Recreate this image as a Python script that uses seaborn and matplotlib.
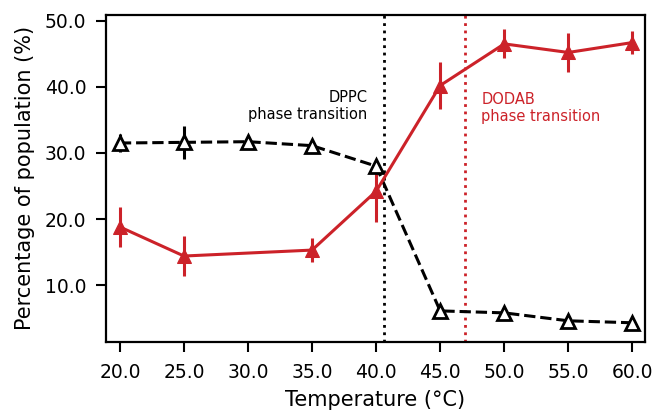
import numpy as np
import pandas as pd
import seaborn as sns
import matplotlib.pyplot as plt
from matplotlib.ticker import FormatStrFormatter

# data
temp_dppc = [20, 25, 30, 35, 40, 45, 50, 55, 60]
pop_dppc = [31.5, 31.6, 31.7, 31.1, 28.0, 6.1, 5.8, 4.6, 4.3]
err_dppc = [1.4, 2.5, 0.8, 0.6, 0.8, 0.5, 0.4, 0.5, 0.4]

temp_dodab = [20, 25, 35, 40, 45, 50, 55, 60]
pop_dodab = [18.8, 14.4, 15.3, 24.2, 40.2, 46.5, 45.2, 46.7]
err_dodab = [3.0, 3.0, 1.8, 4.6, 3.5, 2.2, 3.0, 1.8]

dppc_tm = 40.6
dodab_tm = 46.9

red = '#cc2229'

sns.set_style('ticks')
plt.rcParams['font.family'] = ['DejaVu Sans']

fig, ax = plt.subplots(figsize=(6.53, 4.11), dpi=100)

df_a = pd.DataFrame({'T': temp_dppc, 'P': pop_dppc})
df_b = pd.DataFrame({'T': temp_dodab, 'P': pop_dodab})

ax.errorbar(temp_dppc, pop_dppc, yerr=err_dppc, fmt='none', ecolor='black', elinewidth=2.2, zorder=2)
ax.errorbar(temp_dodab, pop_dodab, yerr=err_dodab, fmt='none', ecolor=red, elinewidth=2.2, zorder=2)

sns.lineplot(data=df_a, x='T', y='P', ax=ax, color='black', linestyle='--', linewidth=2.2,
             marker='^', markersize=10, markerfacecolor='white', markeredgecolor='black',
             markeredgewidth=2, zorder=3)
sns.lineplot(data=df_b, x='T', y='P', ax=ax, color=red, linewidth=2.2,
             marker='^', markersize=10, markerfacecolor=red, markeredgecolor=red, zorder=4)

ax.axvline(dppc_tm, color='black', linestyle=':', linewidth=2, zorder=1)
ax.axvline(dodab_tm, color=red, linestyle=':', linewidth=2, zorder=1)

ax.text(dppc_tm - 1.3, 37.1, 'DPPC\nphase transition', ha='right', va='center',
        fontsize=10.5, color='black', linespacing=1.2)
ax.text(dodab_tm + 1.3, 36.8, 'DODAB\nphase transition', ha='left', va='center',
        fontsize=10.5, color=red, linespacing=1.2)

ax.set_xlim(18.9, 61.0)
ax.set_ylim(1.4, 50.9)
ax.set_xticks(np.arange(20, 61, 5))
ax.set_yticks(np.arange(10, 51, 10))
ax.xaxis.set_major_formatter(FormatStrFormatter('%.1f'))
ax.yaxis.set_major_formatter(FormatStrFormatter('%.1f'))
ax.tick_params(labelsize=13.5, width=1.5, length=7, color='black', labelcolor='black')
ax.tick_params(axis='x', pad=8)
ax.tick_params(axis='y', pad=7)
for s in ax.spines.values():
    s.set_linewidth(1.6)
    s.set_color('black')

ax.set_xlabel('Temperature (°C)', fontsize=15, color='black', labelpad=6)
ax.set_ylabel('Percentage of population (%)', fontsize=15, color='black', labelpad=7)

plt.subplots_adjust(left=0.162, right=0.988, top=0.964, bottom=0.168)
plt.savefig('out.png', dpi=100)
